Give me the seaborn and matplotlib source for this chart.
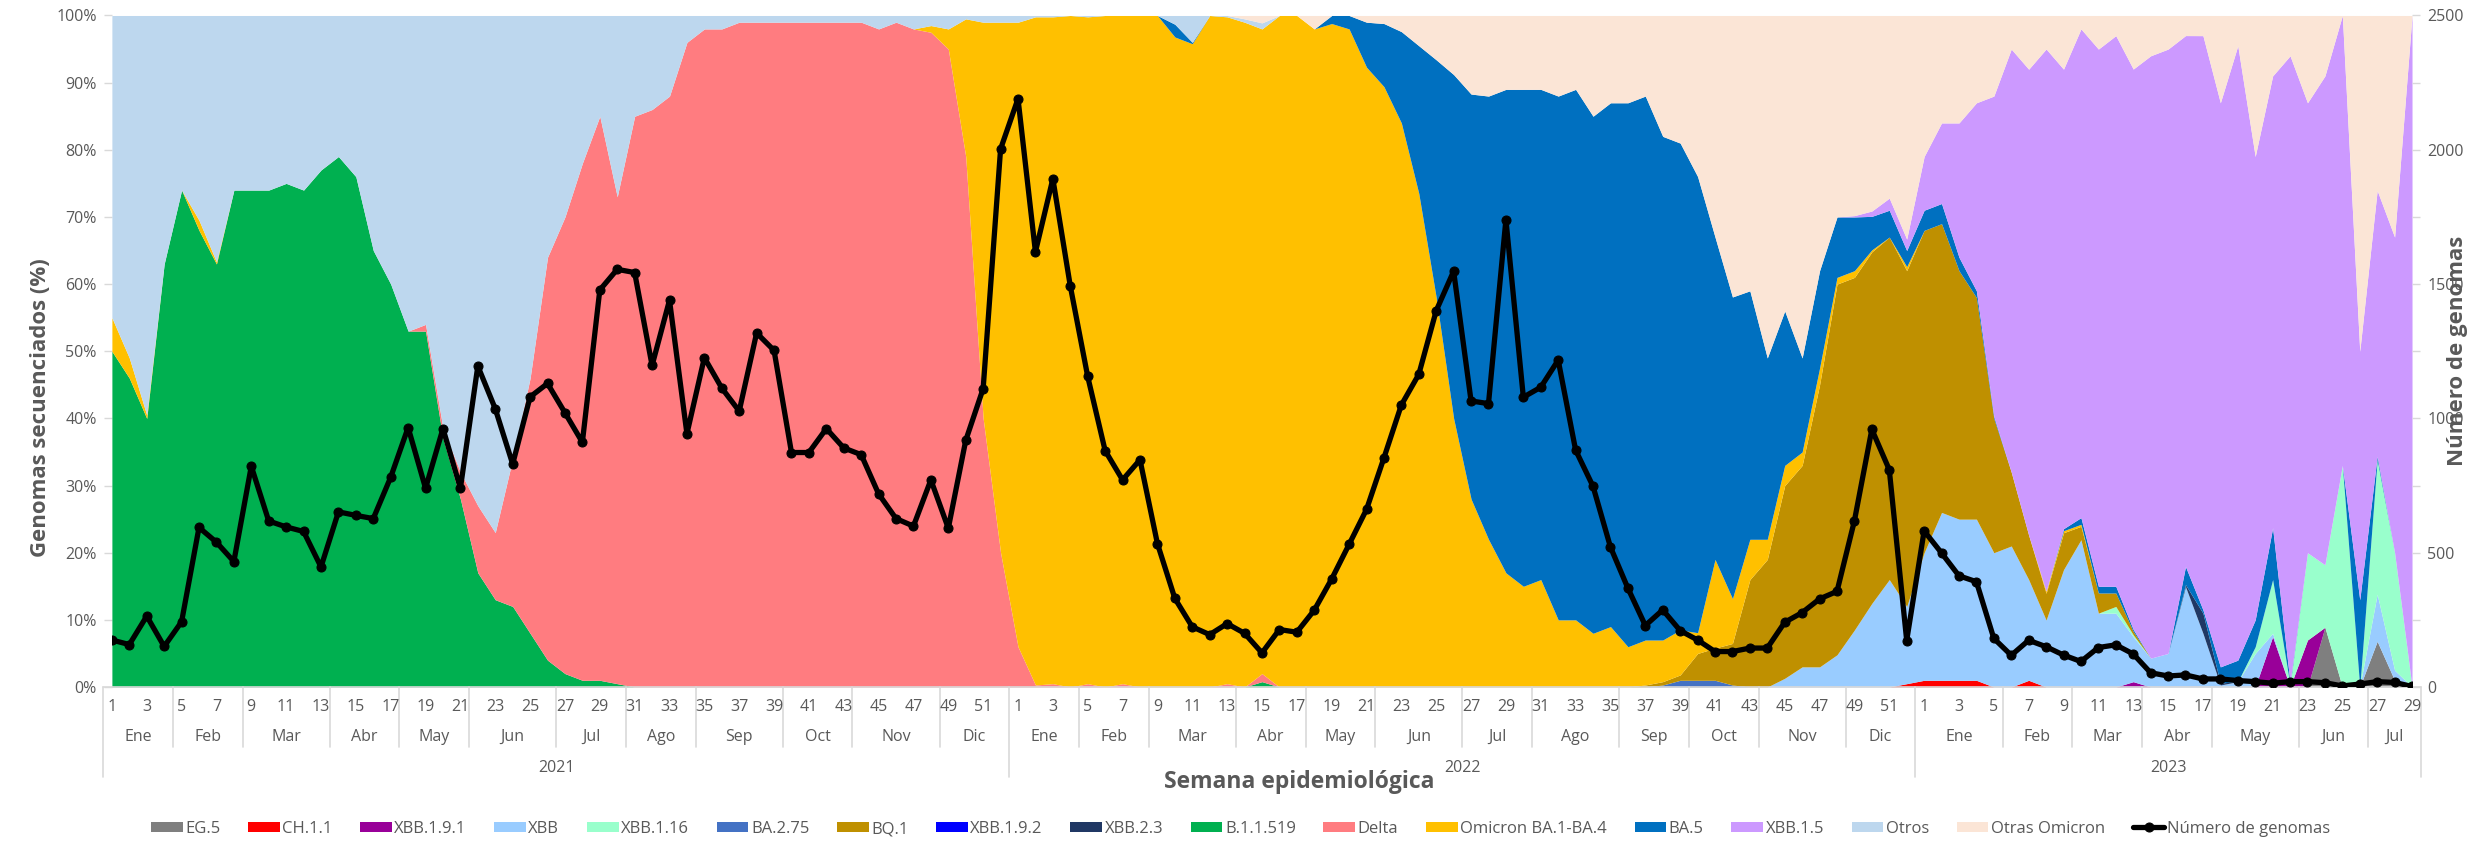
import numpy as np
import matplotlib
matplotlib.use("Agg")
import matplotlib.pyplot as plt
import matplotlib.transforms as mtransforms
import seaborn as sns

# Semanas epidemiológicas por año
weeks_per_year = [52, 52, 29]
years = ["2021", "2022", "2023"]
month_names = ["Ene", "Feb", "Mar", "Abr", "May", "Jun", "Jul", "Ago", "Sep", "Oct", "Nov", "Dic"]
months_2021 = [4, 4, 5, 4, 4, 5, 4, 4, 5, 4, 5, 4]
months_2022 = [4, 4, 5, 4, 4, 5, 4, 5, 4, 4, 5, 4]
months_2023 = [5, 4, 4, 4, 5, 4, 3]

# Porcentaje por linaje (2021 + 2022 + 2023)
eg5 = [0] * 52 + [0] * 52 + [0, 0, 0, 0, 0, 0, 0, 0, 0, 0, 0, 0, 0, 0, 0, 0, 0, 0, 0, 0, 0, 0, 0, 8.9, 0, 0, 6.8, 1, 0]
ch11 = ([0] * 52
        + [0, 0, 0, 0, 0, 0, 0, 0, 0, 0, 0, 0, 0, 0, 0, 0, 0, 0, 0, 0, 0, 0, 0, 0, 0, 0,
           0, 0, 0, 0, 0, 0, 0, 0, 0, 0, 0, 0, 0, 0, 0, 0, 0, 0, 0, 0, 0, 0, 0, 0, 0, 0.5]
        + [1, 1, 1, 1, 0, 0, 1, 0, 0, 0, 0, 0, 0, 0, 0, 0, 0, 0, 0, 0, 0, 0, 0, 0, 0, 0, 0, 0, 0])
xbb191 = [0] * 52 + [0] * 52 + [0, 0, 0, 0, 0, 0, 0, 0, 0, 0, 0, 0, 0.8, 0, 0, 0, 0, 0, 0, 0, 7.5, 0, 7, 0, 0, 0, 0, 0, 0]
xbb = ([0] * 52
       + [0] * 44 + [1.3, 3, 3, 4.8, 8.5, 12.5, 16, 11.5]
       + [19, 25, 24, 24, 20, 21, 15, 10, 17.5, 22, 11, 11, 6.7, 4.3, 5, 15, 8, 0.3, 0.8, 5,
          0.5, 0, 0, 0, 0, 0, 7, 1.5, 0])
xbb116 = [0] * 52 + [0] * 52 + [0, 0, 0, 0, 0, 0, 0, 0, 0, 0, 0, 1, 0.3, 0, 0, 0, 0, 0, 0, 1,
                                8, 0.3, 13, 9.3, 33, 0, 20, 17.5, 0]
ba275 = [0] * 52 + [0] * 37 + [0.3, 1, 1, 1, 0.3] + [0] * 10 + [0] * 29
bq1 = ([0] * 52
       + [0] * 36 + [0.3, 0.5, 0.8, 4, 4.8, 6.2, 16, 19, 28.7, 30, 42, 55.2, 52.5, 52.5, 51, 50]
       + [48, 43, 37, 33, 20, 11, 6.6, 4, 5.5, 2, 3, 2, 0.5, 0, 0, 0, 0, 0, 0, 0, 0, 0, 0, 0, 0, 0, 0, 0, 0])
xbb192 = [0] * 52 + [0] * 52 + [0] * 29
xbb23 = [0] * 52 + [0] * 52 + [0, 0, 0, 0, 0, 0, 0, 0, 0, 0, 0, 0, 0, 0, 0, 0.3, 3, 0.3, 0, 0, 0, 0, 0, 0, 0, 0, 0, 0, 0]
b11519 = ([50, 46, 40, 63, 74, 68, 63, 74, 74, 74, 75, 74, 77, 79, 76, 65, 60, 53, 53, 37,
           28, 17, 13, 12, 8, 4, 2, 1, 1, 0.5, 0, 0, 0, 0, 0, 0, 0, 0, 0, 0, 0, 0, 0, 0, 0,
           0, 0, 0, 0, 0, 0, 0]
          + [0, 0, 0, 0, 0, 0, 0, 0, 0, 0, 0, 0, 0, 0, 0.8] + [0] * 37
          + [0] * 29)
delta = ([0, 0, 0, 0, 0, 0, 0, 0, 0, 0, 0, 0, 0, 0, 0, 0, 0, 0, 1, 1.5,
          4, 10, 10, 22, 38, 60, 68, 77, 84, 72.5, 85, 86, 88, 96, 98, 98, 99, 99, 99, 99,
          99, 99, 99, 99, 98, 99, 98, 97.5, 95, 79, 40, 20]
         + [6, 0.3, 0.5, 0, 0.5, 0, 0.5, 0, 0, 0, 0, 0, 0.5, 0, 1.2] + [0] * 37
         + [0] * 29)
omicron = ([5, 3, 0.5, 0, 0, 1.5, 0.3, 0, 0, 0] + [0] * 37 + [1, 3, 20.5, 59, 79]
           + [93, 99.5, 99.3, 100, 99.3, 100, 99.5, 100, 100, 96.8, 95.8, 100, 99.3, 99, 96,
              100, 100, 98, 98.8, 98, 92.3, 89.4, 84, 73.5, 58, 40, 28, 22, 17, 15, 16, 10,
              10, 8, 9, 6, 6.7, 6.2, 6.7, 3.1, 13.2, 6.7, 6, 3, 3, 2, 2.5, 1, 1, 0.3, 0, 0.6]
           + [0, 0, 0, 0, 0, 0, 0, 0.3, 0.3, 0.3] + [0] * 19)
ba5 = ([0] * 52
       + [0, 0, 0, 0, 0, 0, 0, 0, 0, 1.9, 0.2, 0, 0, 0, 0, 0, 0, 0, 1.2, 2, 6.7, 9.4, 13.6,
          22, 35.4, 51.2, 60.3, 66, 72, 74, 73, 78, 79, 77, 78, 81, 81, 75, 72.5, 68, 48, 45,
          37, 27, 23, 14, 14.5, 9, 8, 5, 4, 2.4]
       + [3, 3, 2, 1, 0.3, 0, 0, 0, 0.3, 1, 1, 1, 0.3, 0, 0, 2.7, 0.5, 2.4, 3.2, 4, 7.7, 0.3,
          0, 0, 0, 13, 0.5, 0, 0])
xbb15 = ([0] * 52
         + [0] * 48 + [0.2, 0.8, 1.8, 1.7]
         + [8, 12, 20, 28, 47.7, 63, 69.4, 81, 68.5, 73, 80, 82, 83.7, 89.7, 90, 79.3, 85.5,
            84, 91.5, 69, 67.3, 93.4, 67, 72.8, 67, 37, 39.5, 47, 100])
otros = ([45, 51, 59.5, 37, 26, 30.5, 36.7, 26, 26, 26, 25, 26, 23, 21, 24, 35, 40, 47, 46,
          61.5, 68, 73, 77, 66, 54, 36, 30, 22, 15, 27, 15, 14, 12, 4, 2, 2, 1, 1, 1, 1, 1,
          1, 1, 1, 2, 1, 2, 1.5, 2, 0.5, 1, 1]
         + [1, 0.2, 0.2, 0, 0.2, 0, 0, 0, 0, 1.3, 4, 0, 0.2, 0.5, 0.9] + [0] * 37
         + [0] * 29)
otras_omicron = ([0] * 52
                 + [0, 0, 0, 0, 0, 0, 0, 0, 0, 0, 0, 0, 0, 0.5, 1.1, 0, 0, 2, 0, 0, 1, 1.2,
                    2.4, 4.5, 6.6, 8.8, 11.7, 12, 11, 11, 11, 12, 11, 15, 13, 13, 12, 18, 19,
                    24, 33, 42, 41, 51, 44, 51, 38, 30, 29.8, 29.2, 27.2, 33.3]
                 + [21, 16, 16, 13, 12, 5, 8, 5, 8, 2, 5, 3, 8, 6, 5, 3, 3, 13, 4.5, 21, 9, 6,
                    13, 9, 0, 50, 26, 33, 0])

# Número de genomas secuenciados por semana
genomas = ([175, 158, 264, 151, 243, 594, 539, 467, 822, 618, 596, 579, 447, 652, 639, 627,
            781, 966, 740, 962, 740, 1195, 1036, 830, 1080, 1130, 1021, 911, 1478, 1555, 1543,
            1197, 1440, 943, 1226, 1113, 1027, 1318, 1253, 873, 873, 962, 890, 865, 719, 627,
            599, 771, 591, 918, 1111, 2003]
           + [2190, 1620, 1892, 1493, 1156, 880, 771, 846, 534, 330, 224, 195, 236, 200, 127,
              214, 204, 286, 402, 531, 661, 853, 1050, 1164, 1401, 1548, 1065, 1055, 1740,
              1079, 1116, 1217, 882, 747, 521, 368, 229, 287, 210, 175, 132, 132, 145, 145,
              241, 277, 328, 356, 619, 959, 809, 173]
           + [581, 499, 414, 392, 181, 118, 174, 150, 119, 95, 147, 157, 123, 53, 41, 45, 30,
              30, 24, 20, 14, 20, 20, 16, 4, 11, 20, 17, 2])

series = [
    ("EG.5", eg5, "#7F7F7F"),
    ("CH.1.1", ch11, "#FF0000"),
    ("XBB.1.9.1", xbb191, "#990099"),
    ("XBB", xbb, "#99CCFF"),
    ("XBB.1.16", xbb116, "#99FFCC"),
    ("BA.2.75", ba275, "#4472C4"),
    ("BQ.1", bq1, "#BF9000"),
    ("XBB.1.9.2", xbb192, "#0000FF"),
    ("XBB.2.3", xbb23, "#203864"),
    ("B.1.1.519", b11519, "#00B050"),
    ("Delta", delta, "#FF7C80"),
    ("Omicron BA.1-BA.4", omicron, "#FFC000"),
    ("BA.5", ba5, "#0070C0"),
    ("XBB.1.5", xbb15, "#CC99FF"),
    ("Otros", otros, "#BDD7EE"),
    ("Otras Omicron", otras_omicron, "#FBE5D6"),
]

n_weeks = sum(weeks_per_year)
for name, vals, _ in series:
    assert len(vals) == n_weeks, (name, len(vals))
assert len(genomas) == n_weeks

sns.set_theme(style="white")
plt.rcParams["font.family"] = ["Open Sans", "DejaVu Sans"]
gray_txt = "#595959"
gray_line = "#D9D9D9"

x = np.arange(n_weeks)
values = np.array([s[1] for s in series], dtype=float)
pct = values / values.sum(axis=0) * 100  # área 100% apilada

fig, ax = plt.subplots(figsize=(24.81, 8.51), dpi=100)
fig.subplots_adjust(left=0.0451, right=0.9722, top=0.9818, bottom=0.1927)

polys = ax.stackplot(x, *pct, colors=[s[2] for s in series], labels=[s[0] for s in series],
                     linewidth=0)
ax.set_xlim(0, n_weeks - 1)
ax.set_ylim(0, 100)
ax.set_yticks(range(0, 101, 10))
ax.yaxis.set_major_formatter(plt.FuncFormatter(lambda v, p: f"{v:.0f}%"))
ax.set_xticks([])
ax.tick_params(axis="y", left=True, length=6, width=1, color=gray_line,
               labelcolor=gray_txt, labelsize=11.5, pad=5)
for sp in ax.spines.values():
    sp.set_visible(False)
ax.set_ylabel("Genomas secuenciados (%)", fontsize=16, fontweight="bold", color=gray_txt)
ax.yaxis.label.set_verticalalignment("center")
ax.yaxis.set_label_coords(-0.0309, 0.4155)

# Eje secundario: número de genomas
ax2 = ax.twinx()
sns.lineplot(x=x, y=genomas, ax=ax2, color="black", linewidth=3.8, marker="o",
             markersize=6.5, markeredgecolor="black", legend=False)
ax2.set_ylim(0, 2500)
ax2.set_yticks(range(0, 2501, 500))
ax2.set_yticks(range(250, 2500, 500), minor=True)
for sp in ax2.spines.values():
    sp.set_visible(False)
ax2.tick_params(axis="y", which="both", right=True, length=6, width=1, color=gray_line,
                labelcolor=gray_txt, labelsize=11.5, pad=5)
ax2.set_ylabel("Número de genomas", fontsize=16, fontweight="bold", color=gray_txt)
ax2.yaxis.label.set_verticalalignment("center")
ax2.yaxis.set_label_coords(1.0196, 0.5)
ax2.set_xlim(0, n_weeks - 1)

# Eje X de varios niveles: semana / mes / año
trans = mtransforms.blended_transform_factory(ax.transData, ax.transAxes)
ax.plot([-0.5, n_weeks - 0.5], [0, 0], transform=trans, color=gray_line, lw=1.2, clip_on=False)

y_week, y_month, y_year = -0.030, -0.0745, -0.1206
month_sep_bottom, year_sep_bottom = -0.089, -0.134

start = 0
for year, nw, months in zip(years, weeks_per_year, [months_2021, months_2022, months_2023]):
    for w in range(1, nw + 1, 2):
        ax.text(start + w - 1, y_week, str(w), transform=trans, ha="center", va="center",
                fontsize=11.5, color=gray_txt)
    b = start
    for name, nm in zip(month_names, months):
        ax.text(b + nm / 2 - 0.5, y_month, name, transform=trans, ha="center", va="center",
                fontsize=11.5, color=gray_txt)
        if b != start:
            ax.plot([b - 0.5, b - 0.5], [0, month_sep_bottom], transform=trans,
                    color=gray_line, lw=1.2, clip_on=False)
        b += nm
    ax.plot([start - 0.5, start - 0.5], [0, year_sep_bottom], transform=trans,
            color=gray_line, lw=1.2, clip_on=False)
    ax.text(start + nw / 2 - 0.5, y_year, year, transform=trans, ha="center", va="center",
            fontsize=11.5, color=gray_txt)
    start += nw
ax.plot([start - 0.5, start - 0.5], [0, year_sep_bottom], transform=trans,
        color=gray_line, lw=1.2, clip_on=False)

fig.text(1299 / 2481, 1 - 782 / 851, "Semana epidemiológica", ha="center", va="center",
         fontsize=16.5, fontweight="bold", color=gray_txt)

handles = list(polys) + [ax2.lines[0]]
labels = [s[0] for s in series] + ["Número de genomas"]
fig.legend(handles, labels, loc="center", bbox_to_anchor=(0.5, 1 - 829 / 851), ncol=17,
           frameon=False, fontsize=12, handlelength=1.9, handleheight=0.6,
           handletextpad=0.15, columnspacing=1.66, labelcolor=gray_txt)

fig.savefig("out.png", dpi=100)
